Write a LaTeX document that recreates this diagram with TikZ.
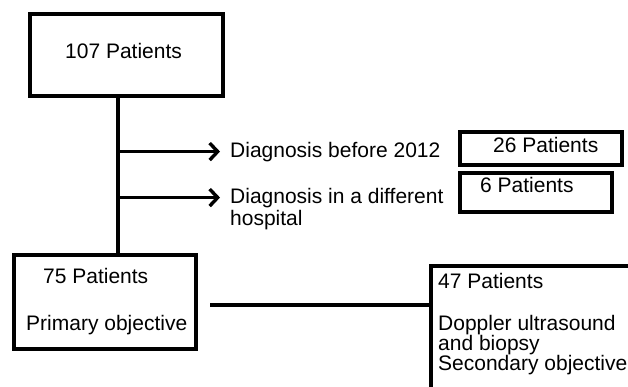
\documentclass[tikz,border=0pt]{standalone}
\usepackage{fontspec}
\setmainfont{Liberation Sans}
\usetikzlibrary{arrows.meta}
\begin{document}
\begin{tikzpicture}[x=1pt,y=-1pt,
 box/.style={draw, line width=3.6pt, inner sep=0pt, anchor=north west},
 txt/.style={anchor=base west, inner sep=0pt, font=\fontsize{21}{22}\selectfont},
 conn/.style={line width=3.4pt},
 arr/.style={line width=3.4pt, -{Straight Barb[length=8pt,width=17pt,line width=3.4pt]}}]
\useasboundingbox (0,0) rectangle (628,386);
\fill[white] (0,0) rectangle (628,386);
\clip (0,0) rectangle (628,386);
% boxes
\node[box, minimum width=193pt, minimum height=82pt] (b107) at (28,12) {};
\node[box, minimum width=182pt, minimum height=94pt] (b75) at (12,253) {};
\node[box, minimum width=162pt, minimum height=33pt] (b26) at (458,130) {};
\node[box, minimum width=152pt, minimum height=39pt] (b6) at (458,171) {};
\node[box, minimum width=230pt, minimum height=140pt] (b47) at (429,264) {};
% texts
\node[txt] (t107) at (65,58) {107 Patients};
\node[txt] (t75a) at (43,283) {75 Patients};
\node[txt] (t75b) at (26,330) {Primary objective};
\node[txt] (d1) at (230,157) {Diagnosis before 2012};
\node[txt] (d2a) at (230,203) {Diagnosis in a different};
\node[txt] (d2b) at (230,225) {hospital};
\node[txt] (t26) at (493,152) {26 Patients};
\node[txt] (t6) at (480,192) {6 Patients};
\node[txt] (t47a) at (438,288) {47 Patients};
\node[txt] (t47b) at (438,330) {Doppler ultrasound};
\node[txt] (t47c) at (438,350) {and biopsy};
\node[txt] (t47d) at (438,370) {Secondary objective};
% connectors
\coordinate (tx) at (118,0);
\draw[conn] (b107.south -| tx) -- (b75.north -| tx);
\draw[arr] (d1.west -| tx) -- ([xshift=-10pt]d1.west);
\draw[arr] (d2a.west -| tx) -- ([xshift=-10pt]d2a.west);
\coordinate (h0) at (210,305);
\draw[conn] (h0) -- (h0 -| b47.west);
\end{tikzpicture}
\end{document}
